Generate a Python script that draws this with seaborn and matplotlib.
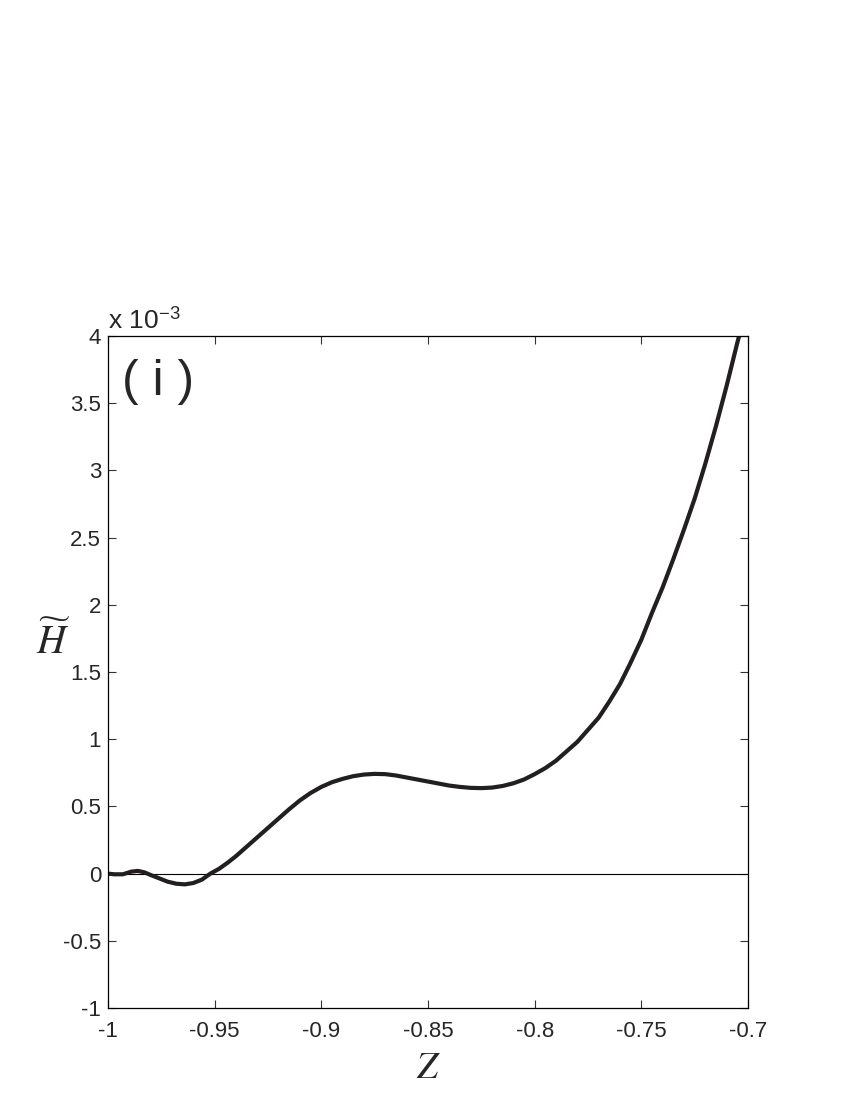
import seaborn as sns
import matplotlib.pyplot as plt

# curve, H in units of 1e-3
z_vals = [-1.0, -0.997, -0.993, -0.989, -0.986, -0.983, -0.980, -0.976, -0.972, -0.968,
          -0.964, -0.960, -0.956, -0.952, -0.948, -0.944, -0.940, -0.935, -0.930, -0.925,
          -0.920, -0.915, -0.910, -0.905, -0.900, -0.895, -0.890, -0.885, -0.880, -0.875,
          -0.870, -0.865, -0.860, -0.855, -0.850, -0.845, -0.840, -0.835, -0.830, -0.825,
          -0.820, -0.815, -0.810, -0.805, -0.800, -0.795, -0.790, -0.785, -0.780, -0.775,
          -0.770, -0.765, -0.760, -0.755, -0.750, -0.745, -0.740, -0.735, -0.730, -0.725,
          -0.720, -0.715, -0.710, -0.705, -0.704]
h_vals = [0.0, -0.005, -0.005, 0.015, 0.02, 0.01, -0.01, -0.035, -0.06, -0.075,
          -0.08, -0.07, -0.045, 0.0, 0.035, 0.08, 0.13, 0.20, 0.27, 0.34,
          0.41, 0.48, 0.545, 0.60, 0.645, 0.68, 0.705, 0.725, 0.737, 0.742,
          0.74, 0.73, 0.715, 0.70, 0.685, 0.67, 0.655, 0.645, 0.638, 0.636,
          0.64, 0.652, 0.672, 0.70, 0.74, 0.785, 0.84, 0.91, 0.98, 1.07,
          1.16, 1.28, 1.41, 1.57, 1.74, 1.94, 2.13, 2.34, 2.56, 2.79,
          3.05, 3.33, 3.63, 3.95, 4.01]

x_ticks = [-1, -0.95, -0.9, -0.85, -0.8, -0.75, -0.7]
x_labels = ['-1', '-0.95', '-0.9', '-0.85', '-0.8', '-0.75', '-0.7']
y_ticks = [-1, -0.5, 0, 0.5, 1, 1.5, 2, 2.5, 3, 3.5, 4]
y_labels = ['-1', '-0.5', '0', '0.5', '1', '1.5', '2', '2.5', '3', '3.5', '4']

sns.set_style('ticks')
plt.rcParams['font.family'] = ['Liberation Sans', 'DejaVu Sans']
plt.rcParams['mathtext.fontset'] = 'stix'

fig = plt.figure(figsize=(8.5, 11), dpi=100)
ax = fig.add_axes([0.127, 0.0836, 0.753, 0.611])

ax.axhline(0, color='black', lw=0.8, zorder=1)
sns.lineplot(x=z_vals, y=h_vals, sort=False, color='#231f20', lw=3.0, ax=ax, zorder=2)

ax.set_xlim(-1, -0.7)
ax.set_ylim(-1, 4)
ax.set_xticks(x_ticks)
ax.set_xticklabels(x_labels)
ax.set_yticks(y_ticks)
ax.set_yticklabels(y_labels)
ax.tick_params(direction='in', length=6, width=0.8, labelsize=16, top=True, right=True,
               color='#333333')
ax.tick_params(axis='x', pad=9)
ax.tick_params(axis='y', pad=5)
for s in ax.spines.values():
    s.set_linewidth(0.9)
    s.set_color('black')

ax.set_xlabel(r'$Z$', fontsize=27, labelpad=6)
ax.set_ylabel(r'$\widetilde{H}$', fontsize=29, rotation=0, labelpad=22)
ax.yaxis.set_label_coords(-0.085, 0.515)

ax.text(0.0, 1.004, r'x 10$^{\mathregular{-3}}$', transform=ax.transAxes,
        fontsize=19, ha='left', va='bottom')
ax.text(0.022, 0.965, '( i )', transform=ax.transAxes, fontsize=36, ha='left', va='top')

plt.savefig('out.png', dpi=100)
